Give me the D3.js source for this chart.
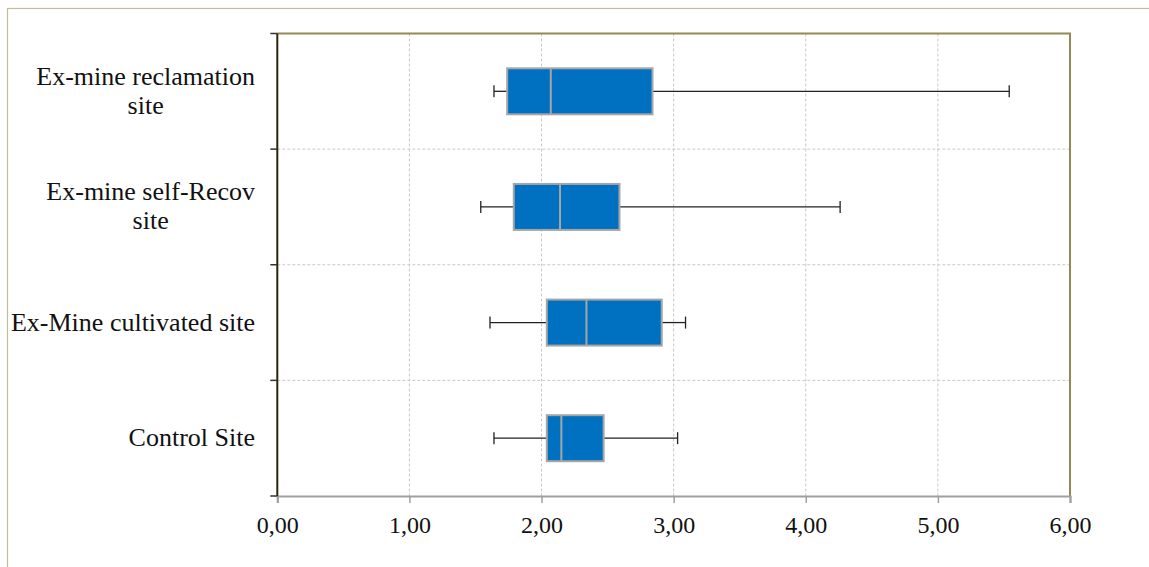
<!DOCTYPE html>
<html><head><meta charset="utf-8">
<script src="https://cdn.jsdelivr.net/npm/d3@7"></script>
<style>body{margin:0;background:#fff}svg{display:block}text{font-family:"Liberation Serif","Times New Roman",serif}</style>
</head><body><svg id="c" width="1149" height="567"></svg>
<script>
const categories = [["Ex-mine reclamation","site"],["Ex-mine self-Recov","site"],["Ex-Mine cultivated site"],["Control Site"]];
const whiskerMin = [1.64, 1.54, 1.61, 1.64];
const q1 = [1.74, 1.79, 2.04, 2.04];
const median = [2.07, 2.14, 2.34, 2.15];
const q3 = [2.84, 2.59, 2.91, 2.47];
const whiskerMax = [5.54, 4.26, 3.09, 3.03];
const xTicks = [0,1,2,3,4,5,6];

const svg = d3.select("#c");
const L=277.3,R=1070,T=33.5,B=496;
const font="Liberation Serif, Times New Roman, serif";

svg.append("rect").attr("x",7.5).attr("y",8.5).attr("width",1300).attr("height",700)
  .attr("fill","none").attr("stroke","#c4bd97").attr("stroke-width",1.2);

const x=d3.scaleLinear().domain([0,6]).range([L,R]);
const y=d3.scaleBand().domain(d3.range(categories.length)).range([T,B]).paddingInner(0).paddingOuter(0);
const fmt=d=>d3.format(".2f")(d).replace(".",",");

svg.append("g").selectAll("line").data(xTicks.filter(d=>d>0&&d<6)).join("line")
  .attr("x1",d=>x(d)).attr("x2",d=>x(d)).attr("y1",T).attr("y2",B)
  .attr("stroke","#c8c8c8").attr("stroke-dasharray","3,2").attr("stroke-width",1);
svg.append("g").selectAll("line").data(d3.range(1,categories.length)).join("line")
  .attr("x1",L).attr("x2",R).attr("y1",d=>y(d)).attr("y2",d=>y(d))
  .attr("stroke","#c8c8c8").attr("stroke-dasharray","3,2").attr("stroke-width",1);

svg.append("path").attr("d",`M${L},${T}H${R}V${B}`).attr("fill","none").attr("stroke","#938953").attr("stroke-width",2);

const xa=svg.append("g").attr("transform",`translate(0,${B})`)
  .call(d3.axisBottom(x).tickValues(xTicks).tickFormat(fmt).tickSize(7).tickPadding(13));
xa.attr("font-family",null).attr("font-size",null);
xa.select(".domain").attr("stroke","#a0a0a0").attr("stroke-width",2.2);
xa.selectAll(".tick line").attr("stroke","#a0a0a0").attr("stroke-width",1.5);
xa.selectAll(".tick text").style("font-family",font).style("font-size","24px").attr("fill","#111");

const bounds=d3.range(categories.length+1).map(i=>i<categories.length?y(i):B);
svg.append("line").attr("x1",L).attr("x2",L).attr("y1",T).attr("y2",B).attr("stroke","#2a2410").attr("stroke-width",2);
svg.append("g").selectAll("line").data(bounds).join("line")
  .attr("x1",L-7).attr("x2",L).attr("y1",d=>d).attr("y2",d=>d).attr("stroke","#333").attr("stroke-width",1.5);

const lg=svg.append("g");
categories.forEach((lines,i)=>{
  const cy=y(i)+y.bandwidth()/2;
  const lh=29;
  const t=lines.map((s,k)=>lg.append("text").attr("text-anchor","middle")
    .style("font-family",font).style("font-size","26px").attr("fill","#111")
    .attr("y",cy+8+(k-(lines.length-1)/2)*lh).text(s));
  const mw=d3.max(t,n=>n.node().getComputedTextLength());
  t.forEach(n=>n.attr("x",255-mw/2));
});

const bh=46;
const bg=svg.append("g");
categories.forEach((c,i)=>{
  const cy=y(i)+y.bandwidth()/2;
  const g=bg.append("g");
  g.append("line").attr("x1",x(whiskerMin[i])).attr("x2",x(q1[i])).attr("y1",cy).attr("y2",cy).attr("stroke","#222").attr("stroke-width",1.3);
  g.append("line").attr("x1",x(q3[i])).attr("x2",x(whiskerMax[i])).attr("y1",cy).attr("y2",cy).attr("stroke","#222").attr("stroke-width",1.3);
  [whiskerMin[i],whiskerMax[i]].forEach(v=>g.append("line").attr("x1",x(v)).attr("x2",x(v)).attr("y1",cy-6).attr("y2",cy+6).attr("stroke","#222").attr("stroke-width",1.3));
  g.append("rect").attr("x",x(q1[i])).attr("y",cy-bh/2).attr("width",x(q3[i])-x(q1[i])).attr("height",bh)
    .attr("fill","#0070c0").attr("stroke","#a6a6a6").attr("stroke-width",2);
  g.append("line").attr("x1",x(median[i])).attr("x2",x(median[i])).attr("y1",cy-bh/2).attr("y2",cy+bh/2).attr("stroke","#a6a6a6").attr("stroke-width",2);
});
</script></body></html>
